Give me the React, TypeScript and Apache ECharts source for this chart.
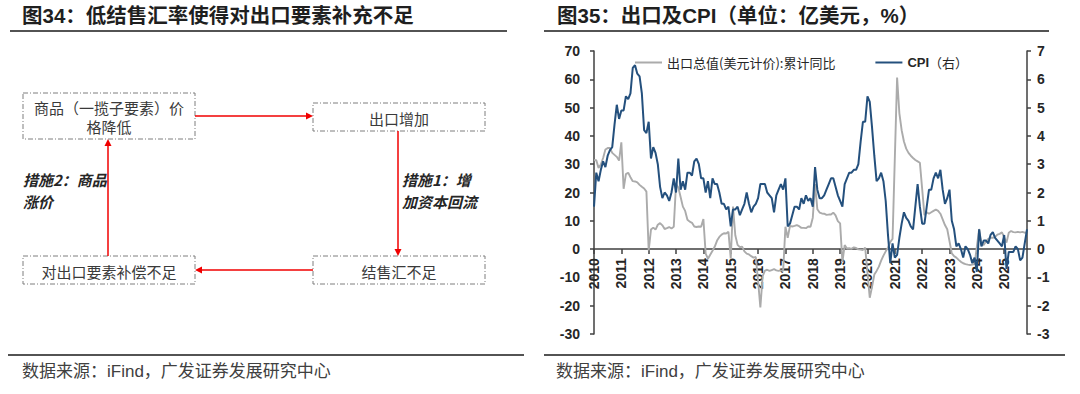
import React, { useEffect, useRef } from "react";
import * as echarts from "echarts";

// ---------- data ----------
const years = [2010, 2011, 2012, 2013, 2014, 2015, 2016, 2017, 2018, 2019, 2020, 2021, 2022, 2023, 2024, 2025];
const lastMonthOfLastYear = 11;

// 出口总值(美元计价):累计同比 (%) — left axis
const exportYoY: (number | null)[] = [
  // 2010
  31.5, 31.4, 28.7, 29.9, 32.2, 35.2, 35.7, 35.7, 34.0, 33.3, 32.6, 31.3,
  // 2011
  37.7, 21.3, 26.5, 27.0, 25.4, 24.0, 23.9, 23.6, 22.7, 22.0, 21.4, 20.3,
  // 2012
  -0.5, 6.9, 7.6, 6.9, 8.6, 9.2, 8.4, 7.1, 7.4, 7.8, 7.3, 7.9,
  // 2013
  23.0, 21.8, 18.4, 15.0, 13.5, 10.4, 9.7, 9.3, 8.0, 7.8, 8.0, 7.9,
  // 2014
  10.6, -1.6, -3.4, -2.0, -0.6, 0.9, 3.0, 4.3, 5.1, 5.6, 5.5, 6.1,
  // 2015
  -3.3, 15.0, 4.9, 1.5, 0.7, 0.9, -0.8, -1.6, -1.9, -2.5, -3.0, -2.8,
  // 2016
  -11.2, -20.6, -9.6, -7.6, -7.3, -7.7, -7.4, -7.1, -7.5, -7.7, -7.5, -7.7,
  // 2017
  7.9, 4.0, 8.2, 8.0, 8.2, 8.5, 8.1, 7.5, 7.5, 7.4, 8.0, 7.9,
  // 2018
  11.1, 23.0, 14.1, 12.9, 12.6, 12.5, 12.1, 12.2, 12.2, 12.9, 11.9, 9.9,
  // 2019
  9.1, -4.6, 1.4, 0.2, 0.3, 0.1, 0.6, 0.4, -0.1, -0.2, -0.3, 0.5,
  // 2020
  null, -17.2, -13.3, -9.0, -7.7, -6.2, -4.1, -2.3, -0.8, 0.5, 2.5, 3.6,
  // 2021
  null, 60.6, 48.0, 42.0, 38.0, 35.5, 34.0, 33.0, 32.2, 31.5, 31.0, 30.5,
  // 2022
  null, 12.0, 13.0, 12.5, 13.0, 13.5, 14.0, 13.5, 12.5, 10.5, 8.5, 7.0,
  // 2023
  null, -1.5, -2.5, -3.0, -3.8, -4.5, -5.0, -5.3, -5.5, -5.6, -5.5, -5.3,
  // 2024
  null, 7.1, 1.5, 1.5, 2.7, 3.6, 4.0, 4.0, 4.3, 5.1, 5.4, 5.9,
  // 2025
  null, 2.3, 5.8, 6.4, 6.0, 5.9, 6.1, 5.9, 6.1, 5.8, 5.9,
];

// CPI 当月同比 (%) — right axis
const cpiYoY: number[] = [
  // 2010
  1.5, 2.7, 2.4, 2.8, 3.1, 2.9, 3.3, 3.5, 3.6, 4.4, 5.1, 4.6,
  // 2011
  4.9, 4.9, 5.4, 5.3, 5.5, 6.4, 6.5, 6.2, 6.1, 5.5, 4.2, 4.1,
  // 2012
  4.5, 3.2, 3.6, 3.4, 3.0, 2.2, 1.8, 2.0, 1.9, 1.7, 2.0, 2.5,
  // 2013
  2.0, 3.2, 2.1, 2.4, 2.1, 2.7, 2.7, 2.6, 3.1, 3.2, 3.0, 2.5,
  // 2014
  2.5, 2.0, 2.4, 1.8, 2.5, 2.3, 2.3, 2.0, 1.6, 1.6, 1.4, 1.5,
  // 2015
  0.8, 1.4, 1.4, 1.5, 1.2, 1.4, 1.6, 2.0, 1.6, 1.3, 1.5, 1.6,
  // 2016
  1.8, 2.3, 2.3, 2.3, 2.0, 1.9, 1.8, 1.3, 1.9, 2.1, 2.3, 2.1,
  // 2017
  2.5, 0.8, 0.9, 1.2, 1.5, 1.5, 1.4, 1.8, 1.6, 1.9, 1.7, 1.8,
  // 2018
  1.5, 2.9, 2.1, 1.8, 1.8, 1.9, 2.1, 2.3, 2.5, 2.5, 2.2, 1.9,
  // 2019
  1.7, 1.5, 2.3, 2.5, 2.7, 2.7, 2.8, 2.8, 3.0, 3.8, 4.5, 4.5,
  // 2020
  5.4, 5.2, 4.3, 3.3, 2.4, 2.5, 2.7, 2.4, 1.7, 0.5, -0.5, 0.2,
  // 2021
  -0.3, -0.2, 0.4, 0.9, 1.3, 1.1, 1.0, 0.8, 0.7, 1.5, 2.3, 1.5,
  // 2022
  0.9, 0.9, 1.5, 2.1, 2.1, 2.5, 2.7, 2.5, 2.8, 2.1, 1.6, 1.8,
  // 2023
  2.1, 1.0, 0.7, 0.1, 0.2, 0.0, -0.3, 0.1, 0.0, -0.2, -0.5, -0.3,
  // 2024
  -0.8, 0.7, 0.1, 0.3, 0.3, 0.2, 0.5, 0.6, 0.4, 0.3, 0.2, 0.1,
  // 2025
  0.5, -0.7, -0.1, -0.1, -0.1, 0.1, 0.0, -0.4, -0.3, 0.2, 0.7,
];

const leftTicks = { min: -30, max: 70, interval: 10 };
const rightTicks = { min: -3, max: 7, interval: 1 };

const seriesNames = ["出口总值(美元计价):累计同比", "CPI（右）"];

const leftTitle = "图34：低结售汇率使得对出口要素补充不足";
const rightTitle = "图35：出口及CPI（单位：亿美元，%）";
const sourceText = "数据来源：iFind，广发证券发展研究中心";

const boxTexts = ["商品（一揽子要素）价\n格降低", "出口增加", "结售汇不足", "对出口要素补偿不足"];
const measureTexts = ["措施1：增\n加资本回流", "措施2：商品\n涨价"];

// ---------- build ----------
const categories: string[] = [];
years.forEach((y, yi) => {
  const last = yi === years.length - 1 ? lastMonthOfLastYear : 12;
  for (let m = 1; m <= last; m++) categories.push(`${y}-${m < 10 ? "0" + m : m}`);
});

const FONT = "'Liberation Sans', 'Noto Sans CJK SC', sans-serif";
const CJK = "'Noto Sans CJK SC', sans-serif";
const AXIS = "#404040";
const LABEL = "#262626";
const RED = "#F00000";
const BLUE = "#24507D";
const GRAY = "#ABABAB";

const GRID_TOP = 51;
const GRID_BOTTOM = 60;
const CHART_H = 394;

function buildGraphic() {
  const g: any[] = [];
  const text = (x: number, y: number, t: string, s: any) => ({
    type: "text",
    x,
    y,
    silent: true,
    style: { text: t, fill: "#333", fontFamily: CJK, fontSize: 14, align: "left", verticalAlign: "middle", ...s },
  });
  // titles
  g.push(text(22, 15, leftTitle, { fontSize: 20.5, fontWeight: "bold", fill: "#1f1f1f", fontFamily: FONT }));
  g.push(text(557, 15, rightTitle, { fontSize: 20.5, fontWeight: "bold", fill: "#1f1f1f", fontFamily: FONT }));
  const hline = (x1: number, x2: number, y: number, w: number, c: string) => ({
    type: "line",
    silent: true,
    shape: { x1, y1: y, x2, y2: y },
    style: { stroke: c, lineWidth: w },
  });
  g.push(hline(10, 507, 31, 1.5, "#1a1a1a"));
  g.push(hline(544, 1049, 31, 1.5, "#1a1a1a"));
  g.push(hline(8, 524, 355, 1.5, "#1a1a1a"));
  g.push(hline(544, 1065, 355, 1.5, "#1a1a1a"));
  g.push(text(22, 371, sourceText, { fontSize: 17, fill: "#404040", fontFamily: FONT }));
  g.push(text(556, 371, sourceText, { fontSize: 17, fill: "#404040", fontFamily: FONT }));

  // boxes
  const boxes = [
    { x: 23, y: 93, w: 172, h: 46, t: boxTexts[0] },
    { x: 313, y: 103, w: 172, h: 28, t: boxTexts[1] },
    { x: 313, y: 256, w: 172, h: 28, t: boxTexts[2] },
    { x: 23, y: 256, w: 172, h: 28, t: boxTexts[3] },
  ];
  boxes.forEach((b) => {
    g.push({
      type: "rect",
      silent: true,
      shape: { x: b.x, y: b.y, width: b.w, height: b.h },
      style: { fill: "#fff", stroke: "#7f7f7f", lineWidth: 1, lineDash: [5, 2, 1, 2] },
    });
    g.push(
      text(b.x + b.w / 2, b.y + b.h / 2 + 1, b.t, {
        align: "center",
        fontSize: 15,
        lineHeight: 19,
        fill: "#3a3a3a",
      })
    );
  });

  // arrows
  const arrow = (x1: number, y1: number, x2: number, y2: number) => {
    const dx = x2 - x1;
    const dy = y2 - y1;
    const len = Math.sqrt(dx * dx + dy * dy);
    const ux = dx / len;
    const uy = dy / len;
    const hl = 7;
    const hw = 3.5;
    const bx = x2 - ux * hl;
    const by = y2 - uy * hl;
    g.push({
      type: "line",
      silent: true,
      shape: { x1, y1, x2: bx, y2: by },
      style: { stroke: RED, lineWidth: 1.5 },
    });
    g.push({
      type: "polygon",
      silent: true,
      shape: {
        points: [
          [x2, y2],
          [bx - uy * hw, by + ux * hw],
          [bx + uy * hw, by - ux * hw],
        ],
      },
      style: { fill: RED },
    });
  };
  arrow(195, 116, 313, 116);
  arrow(398, 131, 398, 256);
  arrow(313, 270, 195, 270);
  arrow(108, 256, 108, 139);

  // measure labels
  g.push(
    text(402, 190, measureTexts[0], {
      fontSize: 15,
      fontWeight: "bold",
      fontStyle: "italic",
      lineHeight: 22,
      fill: "#262626",
    })
  );
  g.push(
    text(23, 190, measureTexts[1], {
      fontSize: 15,
      fontWeight: "bold",
      fontStyle: "italic",
      lineHeight: 22,
      fill: "#262626",
    })
  );
  return g;
}

export default function App() {
  const ref = useRef<HTMLDivElement>(null);
  useEffect(() => {
    if (!ref.current) return;
    const chart = echarts.init(ref.current, undefined, { renderer: "svg" });
    const isJan = (_i: number, v: string) => String(v).endsWith("-01");
    // place the category axis on the zero line of the left value axis
    const gridH = CHART_H - GRID_TOP - GRID_BOTTOM;
    const zeroFromBottom = (gridH * (0 - leftTicks.min)) / (leftTicks.max - leftTicks.min);
    const yAxisCommon = {
      type: "value",
      splitLine: { show: false },
      axisLine: { show: true, onZero: false, lineStyle: { color: AXIS, width: 1.5 } },
      axisTick: { show: true, length: 4, lineStyle: { color: AXIS, width: 1.5 } },
      axisLabel: { fontSize: 14, fontWeight: "bold", color: LABEL, fontFamily: FONT },
    };
    chart.setOption({
      animation: false,
      textStyle: { fontFamily: FONT },
      grid: { left: 594, right: 53, top: GRID_TOP, bottom: GRID_BOTTOM, containLabel: false },
      legend: {
        data: seriesNames,
        left: 635,
        top: 56,
        padding: 0,
        itemGap: 40,
        itemWidth: 27,
        itemHeight: 2,
        icon: "rect",
        textStyle: {
          fontSize: 13,
          color: "#262626",
          fontFamily: CJK,
          rich: {
            b: { fontSize: 13, fontWeight: "bold", fontFamily: FONT, color: "#262626" },
            n: { fontSize: 13, fontFamily: CJK, color: "#262626" },
          },
        },
        formatter: (name: string) => (name === "CPI（右）" ? "{b|CPI}{n|（右）}" : name),
      },
      xAxis: {
        type: "category",
        data: categories,
        boundaryGap: false,
        position: "bottom",
        offset: -zeroFromBottom,
        axisLine: { onZero: false, lineStyle: { color: AXIS, width: 1.5 } },
        axisTick: { show: true, interval: isJan, length: 5, lineStyle: { color: AXIS, width: 1.5 } },
        axisLabel: {
          interval: isJan,
          rotate: 90,
          margin: 9,
          formatter: (v: string) => v.slice(0, 4),
          fontSize: 14,
          fontWeight: "bold",
          color: LABEL,
          fontFamily: FONT,
        },
        splitLine: { show: false },
      },
      yAxis: [
        {
          ...yAxisCommon,
          position: "left",
          min: leftTicks.min,
          max: leftTicks.max,
          interval: leftTicks.interval,
          axisLabel: { ...yAxisCommon.axisLabel, margin: 14 },
        },
        {
          ...yAxisCommon,
          position: "right",
          min: rightTicks.min,
          max: rightTicks.max,
          interval: rightTicks.interval,
          axisLabel: { ...yAxisCommon.axisLabel, margin: 10 },
        },
      ],
      series: [
        {
          name: seriesNames[0],
          type: "line",
          yAxisIndex: 0,
          data: exportYoY,
          symbol: "none",
          connectNulls: true,
          lineStyle: { color: GRAY, width: 1.9 },
          itemStyle: { color: GRAY },
        },
        {
          name: seriesNames[1],
          type: "line",
          yAxisIndex: 1,
          data: cpiYoY,
          symbol: "none",
          lineStyle: { color: BLUE, width: 2 },
          itemStyle: { color: BLUE },
        },
      ],
      graphic: buildGraphic(),
    });
    return () => chart.dispose();
  }, []);
  return (
    <div
      ref={ref}
      style={{ position: "absolute", left: 0, top: 0, width: 1080, height: 394, background: "#fff" }}
    />
  );
}
